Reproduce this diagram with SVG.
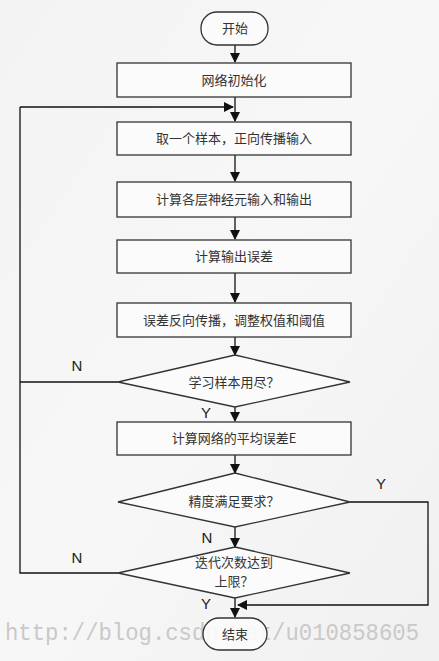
<svg xmlns="http://www.w3.org/2000/svg" width="439" height="661" viewBox="0 0 439 661">
<defs>
<marker id="ah" markerWidth="10" markerHeight="10" refX="9" refY="5" orient="auto" markerUnits="userSpaceOnUse">
<path d="M0,0 L10,5 L0,10 Z" fill="#111"/>
</marker>
<linearGradient id="bg" x1="0" y1="0" x2="1" y2="1">
<stop offset="0" stop-color="#f3f3f3"/>
<stop offset="0.5" stop-color="#f7f7f7"/>
<stop offset="1" stop-color="#f0f0f0"/>
</linearGradient>
</defs>
<style>
.box{fill:#fbfbfb;stroke:#333;stroke-width:1.3}
.t{font-family:"Noto Sans CJK SC","Liberation Sans",sans-serif;font-size:13px;fill:#333;text-anchor:middle}
.lab{font-family:"Liberation Sans",Arial,sans-serif;font-size:15px;fill:#222;text-anchor:middle}
.ln{fill:none;stroke:#111;stroke-width:1.3}
.wm{font-family:"Liberation Mono","Courier New",monospace;font-size:23px;fill:#c9c9c9}
</style>
<rect width="439" height="661" fill="url(#bg)"/>
<text class="wm" x="5" y="640" textLength="414" lengthAdjust="spacingAndGlyphs">http://blog.csdn.net/u010858605</text>
<g id="connectors">
<line class="ln" x1="235" y1="45" x2="235" y2="62" marker-end="url(#ah)"/>
<line class="ln" x1="235" y1="97" x2="235" y2="121" marker-end="url(#ah)"/>
<polyline class="ln" points="20,107 233,107" marker-end="url(#ah)"/>
<line class="ln" x1="235" y1="155" x2="235" y2="181" marker-end="url(#ah)"/>
<line class="ln" x1="235" y1="217" x2="235" y2="239" marker-end="url(#ah)"/>
<line class="ln" x1="235" y1="273" x2="235" y2="302" marker-end="url(#ah)"/>
<line class="ln" x1="235" y1="337" x2="235" y2="355" marker-end="url(#ah)"/>
<line class="ln" x1="235" y1="407" x2="235" y2="421" marker-end="url(#ah)"/>
<line class="ln" x1="235" y1="455" x2="235" y2="473" marker-end="url(#ah)"/>
<line class="ln" x1="235" y1="527" x2="235" y2="547" marker-end="url(#ah)"/>
<line class="ln" x1="235" y1="598" x2="235" y2="617" marker-end="url(#ah)"/>
<polyline class="ln" points="118,382 20,382"/>
<polyline class="ln" points="118,573 20,573 20,107"/>
<polyline class="ln" points="350,502 428,502 428,605 238,605" marker-end="url(#ah)"/>
<text class="lab" x="77" y="371">N</text>
<text class="lab" x="206" y="418">Y</text>
<text class="lab" x="381" y="489">Y</text>
<text class="lab" x="207" y="543">N</text>
<text class="lab" x="77" y="563">N</text>
<text class="lab" x="206" y="609">Y</text>
</g>
<g id="start"><rect class="box" x="201" y="12" width="67" height="33" rx="16"/><text class="t" x="235" y="33">开始</text></g>
<g id="init"><rect class="box" x="117" y="63" width="234" height="34"/><text class="t" x="234" y="85">网络初始化</text></g>
<g id="sample"><rect class="box" x="117" y="122" width="234" height="33"/><text class="t" x="234" y="143">取一个样本，正向传播输入</text></g>
<g id="layers"><rect class="box" x="117" y="182" width="234" height="35"/><text class="t" x="234" y="204">计算各层神经元输入和输出</text></g>
<g id="err"><rect class="box" x="117" y="240" width="234" height="33"/><text class="t" x="234" y="261">计算输出误差</text></g>
<g id="bp"><rect class="box" x="117" y="303" width="234" height="34"/><text class="t" x="234" y="325">误差反向传播，调整权值和阈值</text></g>
<g id="d1"><polygon class="box" points="235,355 350,382 235,407 118,382"/><text class="t" x="234" y="387">学习样本用尽？</text></g>
<g id="avg"><rect class="box" x="117" y="422" width="234" height="33"/><text class="t" x="234" y="443">计算网络的平均误差E</text></g>
<g id="d2"><polygon class="box" points="235,473 350,502 235,527 118,502"/><text class="t" x="234" y="506">精度满足要求？</text></g>
<g id="d3"><polygon class="box" points="235,547 350,573 235,598 118,573"/><text class="t" x="234" y="567" font-size="12.5">迭代次数达到</text><text class="t" x="234" y="586" font-size="12.5">上限？</text></g>
<g id="end"><rect class="box" x="203" y="618" width="64" height="32" rx="16" fill-opacity="0.9"/><text class="t" x="235" y="639">结束</text></g>
</svg>
